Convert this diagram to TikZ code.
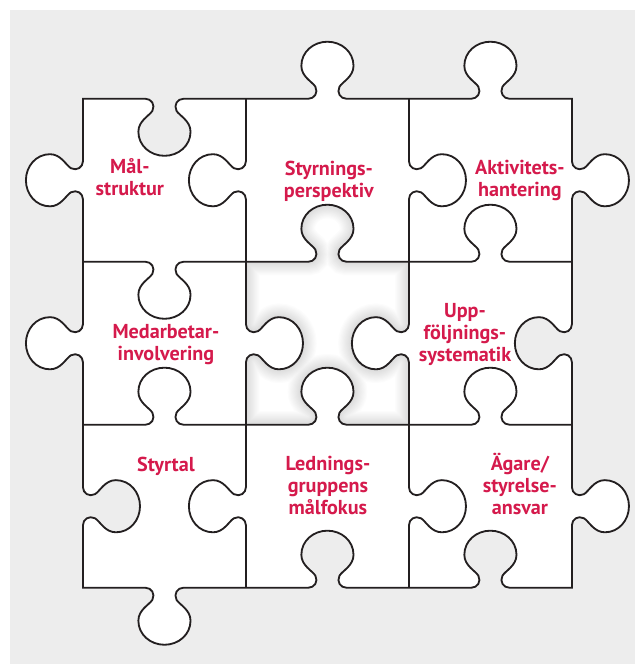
\documentclass[tikz,border=0pt]{standalone}
\usepackage{fontspec}
\setmainfont{PT Sans}
\usetikzlibrary{calc}

\definecolor{backgray}{HTML}{EDEDED}
\definecolor{termred}{HTML}{D51A4C}
\definecolor{outline}{HTML}{231F20}

% one side of a piece: from #1, length 1 in direction #2, knob on side #3 (1 = left, -1 = right)
\newcommand{\tabedge}[3]{%
  -- ($(#1)+(#2:0.383)$)
  .. controls ($(#1)+(#2:0.420)$) and ($(#1)+(#2:0.445)+(#2+90:#3*0.037)$) .. ($(#1)+(#2:0.426)+(#2+90:#3*0.074)$)
  .. controls ($(#1)+(#2:0.408)+(#2+90:#3*0.104)$) and ($(#1)+(#2:0.340)+(#2+90:#3*0.135)$) .. ($(#1)+(#2:0.340)+(#2+90:#3*0.202)$)
  .. controls ($(#1)+(#2:0.340)+(#2+90:#3*0.288)$) and ($(#1)+(#2:0.414)+(#2+90:#3*0.350)$) .. ($(#1)+(#2:0.500)+(#2+90:#3*0.350)$)
  .. controls ($(#1)+(#2:0.586)+(#2+90:#3*0.350)$) and ($(#1)+(#2:0.660)+(#2+90:#3*0.288)$) .. ($(#1)+(#2:0.660)+(#2+90:#3*0.202)$)
  .. controls ($(#1)+(#2:0.660)+(#2+90:#3*0.135)$) and ($(#1)+(#2:0.592)+(#2+90:#3*0.104)$) .. ($(#1)+(#2:0.574)+(#2+90:#3*0.074)$)
  .. controls ($(#1)+(#2:0.555)+(#2+90:#3*0.037)$) and ($(#1)+(#2:0.580)$) .. ($(#1)+(#2:0.617)$)
  -- ($(#1)+(#2:1)$)}

\begin{document}
\begin{tikzpicture}[x=2.5cm,y=2.5cm,
    piece/.style={draw=outline,line width=0.8pt,fill=white},
    seam/.style={draw=outline,line width=0.8pt},
    term/.style={text=termred,font=\bfseries\fontsize{8.8}{9.6}\selectfont,align=center,anchor=base}]
  \useasboundingbox (-0.509,-0.468) rectangle (3.387,3.606);
  \fill[backgray] (-0.448,-0.468) rectangle (3.387,3.544);

  % outer border of the block, clockwise from the top left corner
  \path[piece] (0,3) \tabedge{0,3}{0}{-1} \tabedge{1,3}{0}{1} \tabedge{2,3}{0}{1}
    \tabedge{3,3}{-90}{1} \tabedge{3,2}{-90}{-1} \tabedge{3,1}{-90}{1}
    \tabedge{3,0}{180}{-1} \tabedge{2,0}{180}{-1} \tabedge{1,0}{180}{1}
    \tabedge{0,0}{90}{-1} \tabedge{0,1}{90}{1} \tabedge{0,2}{90}{1} -- cycle;

  % empty slot in the middle, shaded along its rim
  \begin{scope}
    \clip (1,2) \tabedge{1,2}{0}{1} \tabedge{2,2}{-90}{-1} \tabedge{2,1}{180}{-1} \tabedge{1,1}{90}{-1} -- cycle;
    \foreach \w in {1,...,12}
      \draw[black,opacity=0.012,line width=\w pt] (1,2) \tabedge{1,2}{0}{1} \tabedge{2,2}{-90}{-1} \tabedge{2,1}{180}{-1} \tabedge{1,1}{90}{-1} -- cycle;
  \end{scope}

  % inner seams
  \foreach \i/\s in {0/-1, 1/1, 2/1} \draw[seam] (\i,2) \tabedge{\i,2}{0}{\s};
  \foreach \i/\s in {0/1, 1/1, 2/1} \draw[seam] (\i,1) \tabedge{\i,1}{0}{\s};
  \foreach \j/\s in {2/1, 1/-1, 0/1} \draw[seam] (1,\j) \tabedge{1,\j}{90}{\s};
  \foreach \j/\s in {2/-1, 1/1, 0/-1} \draw[seam] (2,\j) \tabedge{2,\j}{90}{\s};

  \node[term] (malstruktur) at (0.288,2.409) {Mål-\\struktur};
  \node[term] (styrning) at (1.509,2.397) {Styrnings-\\perspektiv};
  \node[term] (aktivitet) at (2.681,2.399) {Aktivitets-\\hantering};
  \node[term] (medarbetare) at (0.509,1.397) {Medarbetar-\\involvering};
  \node[term] (uppfoljning) at (2.344,1.385) {Upp-\\följnings-\\systematik};
  \node[term] (styrtal) at (0.509,0.716) {Styrtal};
  \node[term] (ledning) at (1.503,0.452) {Lednings-\\gruppens\\målfokus};
  \node[term] (agare) at (2.681,0.452) {Ägare/\\styrelse-\\ansvar};
\end{tikzpicture}
\end{document}
